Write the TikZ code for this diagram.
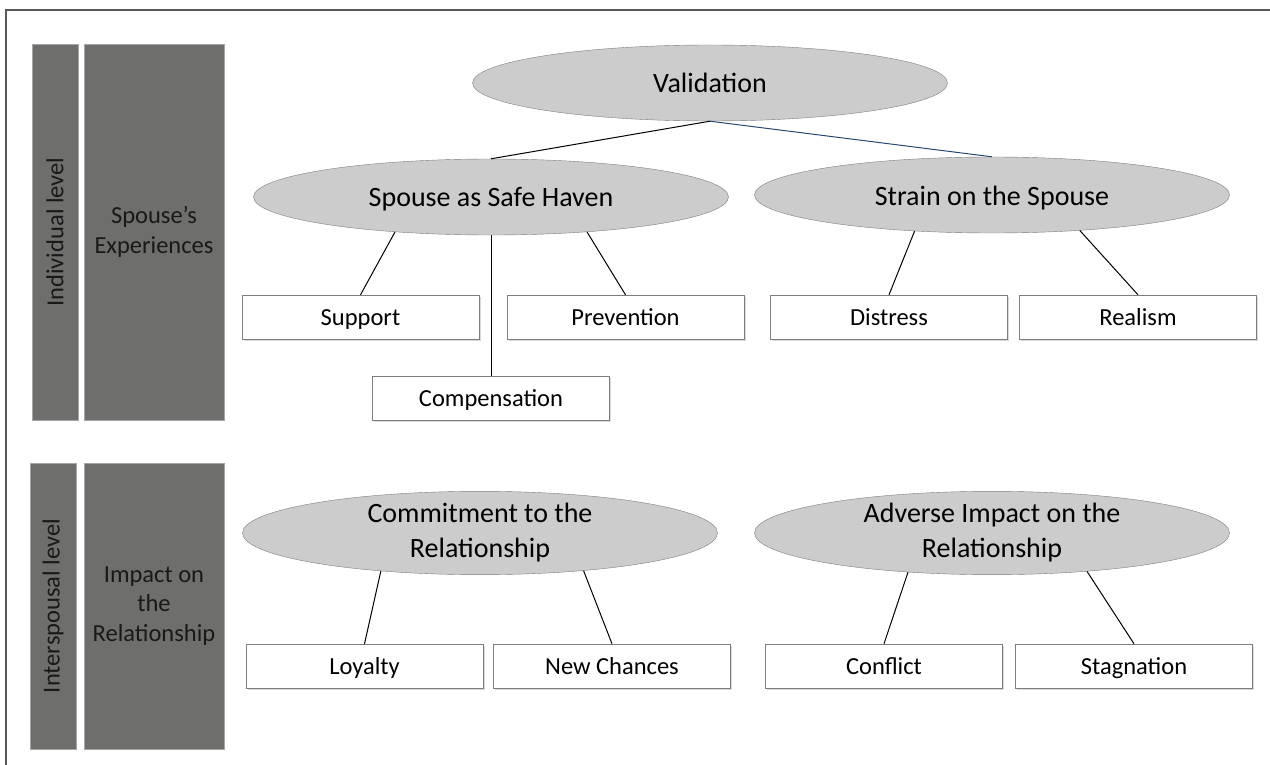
\documentclass[tikz,border=0pt]{standalone}
\usepackage{fontspec}
\setmainfont{Carlito}
\usepackage{tikz}
\usetikzlibrary{shapes.geometric,shadows}
\definecolor{barfill}{RGB}{110,111,108}
\definecolor{ovalfill}{RGB}{204,204,204}
\definecolor{edgegray}{RGB}{125,125,125}
\definecolor{linkblue}{RGB}{40,72,112}

\begin{document}
\begin{tikzpicture}[x=1pt,y=-1pt,
      level/.style={draw=gray!70, fill=barfill, rotate=90, minimum height=46pt, inner sep=0pt, text=black!90, font=\fontsize{24.5}{29}\selectfont},
      theme/.style={draw=gray!70, fill=barfill, minimum width=140pt, inner sep=0pt, align=center, text=black!90, font=\fontsize{24.5}{29.5}\selectfont},
      oval/.style={ellipse, draw=edgegray, fill=ovalfill, minimum width=475pt, minimum height=76pt, inner sep=0pt, align=center, font=\fontsize{28}{35}\selectfont},
      oneline/.style={text height=20pt, text depth=0pt},
      code/.style={draw=edgegray, fill=white, minimum width=237pt, minimum height=44pt, inner sep=0pt, text height=18pt, text depth=2pt, font=\fontsize{24.5}{29}\selectfont, drop shadow={shadow xshift=1.5pt, shadow yshift=-1.5pt, opacity=0.3}},
      link/.style={line width=1pt}]
      \useasboundingbox (0,0) rectangle (1270,765);
      \draw[black!65, line width=1.5pt] (6,765) -- (6,10) -- (1270,10);

      \node[level, minimum width=376pt] (indiv) at (55,232) {Individual level};
      \node[theme, minimum height=376pt] (exper) at (154,232) {Spouse’s\\Experiences};
      \node[level, minimum width=286pt] (inter) at (53,606) {Interspousal level};
      \node[theme, minimum height=286pt] (impact) at (154,606) {Impact on\\the\\Relationship};

      \node[oval, oneline] (valid) at (710,83) {Validation};
      \node[oval, oneline] (haven) at (491,197) {Spouse as Safe Haven};
      \node[oval, oneline] (strain) at (992,195) {Strain on the Spouse};
      \node[oval] (commit) at (480,533) {Commitment to the\\Relationship};
      \node[oval] (adverse) at (992,533) {Adverse Impact on the\\Relationship};

      \node[code] (support) at (360.5,317) {Support};
      \node[code] (prevent) at (625.5,317) {Prevention};
      \node[code] (compens) at (491,398.5) {Compensation};
      \node[code] (distress) at (889,317) {Distress};
      \node[code] (realism) at (1138,317) {Realism};
      \node[code] (loyalty) at (364.5,666) {Loyalty};
      \node[code] (chances) at (612,666) {New Chances};
      \node[code] (conflict) at (884,666) {Conflict};
      \node[code] (stagn) at (1134,666) {Stagnation};

      \draw[link] (valid.south) -- (haven.north);
      \draw[link, linkblue] (valid.south) -- (strain.north);
      \draw[link] (haven.200) -- (support.north);
      \draw[link] (haven.south) -- (compens.north);
      \draw[link] (haven.340) -- (prevent.north);
      \draw[link] (strain.205) -- (distress.north);
      \draw[link] (strain.338) -- (realism.north);
      \draw[link] (commit.201) -- (loyalty.north);
      \draw[link] (commit.340) -- (chances.north);
      \draw[link] (adverse.205) -- (conflict.north);
      \draw[link] (adverse.338) -- (stagn.north);
      \end{tikzpicture}
\end{document}
